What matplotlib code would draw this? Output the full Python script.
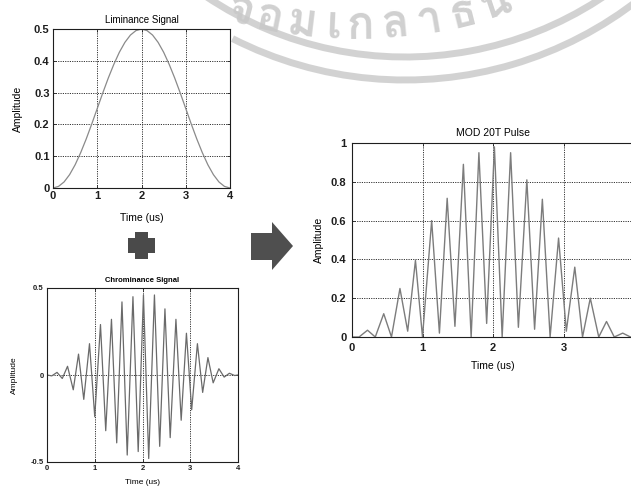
import numpy as np
import matplotlib
matplotlib.use('Agg')
import matplotlib.pyplot as plt
from matplotlib.patches import Arc, Polygon
from matplotlib import font_manager as fm
from matplotlib.ft2font import FT2Font

# ---------------- data ----------------
lum_t = [0, 0.125, 0.25, 0.375, 0.5, 0.625, 0.75, 0.875, 1.0, 1.125, 1.25, 1.375, 1.5,
         1.625, 1.75, 1.875, 2.0, 2.125, 2.25, 2.375, 2.5, 2.625, 2.75, 2.875, 3.0,
         3.125, 3.25, 3.375, 3.5, 3.625, 3.75, 3.875, 4.0]
lum_v = [0, 0.005, 0.019, 0.042, 0.073, 0.111, 0.154, 0.201, 0.25, 0.299, 0.346, 0.389, 0.427,
         0.458, 0.481, 0.495, 0.5, 0.495, 0.481, 0.458, 0.427, 0.389, 0.346, 0.299, 0.25,
         0.201, 0.154, 0.111, 0.073, 0.042, 0.019, 0.005, 0]

chroma_t = [0, 0.10, 0.21, 0.32, 0.43, 0.55, 0.66, 0.77, 0.89, 1.00, 1.12, 1.23, 1.35, 1.46,
            1.57, 1.68, 1.80, 1.91, 2.02, 2.13, 2.25, 2.36, 2.47, 2.58, 2.70, 2.81, 2.92,
            3.03, 3.15, 3.26, 3.37, 3.48, 3.60, 3.71, 3.82, 3.93, 4.0]
chroma_v = [0, -0.005, 0.015, -0.02, 0.05, -0.085, 0.12, -0.14, 0.18, -0.24, 0.29, -0.32,
            0.32, -0.39, 0.42, -0.46, 0.45, -0.44, 0.46, -0.48, 0.46, -0.41, 0.38, -0.36,
            0.32, -0.26, 0.24, -0.20, 0.18, -0.10, 0.10, -0.045, 0.036, -0.012, 0.01,
            -0.003, 0]

mod_t = [0, 0.10, 0.22, 0.33, 0.45, 0.56, 0.68, 0.79, 0.90, 1.00, 1.13, 1.24, 1.35, 1.46,
         1.58, 1.69, 1.80, 1.91, 2.02, 2.13, 2.25, 2.36, 2.48, 2.59, 2.70, 2.81, 2.93, 3.04,
         3.16, 3.27, 3.38, 3.50, 3.61, 3.72, 3.84, 3.95, 4.0]
mod_v = [0, 0.0, 0.035, 0.0, 0.12, 0.0, 0.25, 0.03, 0.395, 0.0, 0.60, 0.02, 0.715, 0.055,
         0.89, 0.0, 0.95, 0.07, 0.98, 0.0, 0.95, 0.05, 0.81, 0.04, 0.71, 0.0, 0.51, 0.03,
         0.36, 0.0, 0.20, 0.0, 0.08, 0.0, 0.02, 0.0, 0.0]

lum_xticks = [0, 1, 2, 3, 4]
lum_yticks = [0, 0.1, 0.2, 0.3, 0.4, 0.5]
lum_ylabels = ['0', '0.1', '0.2', '0.3', '0.4', '0.5']
chroma_yticks = [-0.5, 0, 0.5]
chroma_ylabels = ['-0.5', '0', '0.5']
mod_xticks = [0, 1, 2, 3]
mod_yticks = [0, 0.2, 0.4, 0.6, 0.8, 1.0]
mod_ylabels = ['0', '0.2', '0.4', '0.6', '0.8', '1']

titles = ['Liminance Signal', 'Chrominance Signal', 'MOD 20T Pulse']
xlabel = 'Time (us)'
ylabel = 'Amplitude'
watermark_chars = ['จ', 'อ', 'ม', 'เ', 'ก', 'ล้', 'า', 'ธ', 'น']

# ---------------- figure ----------------
plt.rcParams['font.family'] = ['Liberation Sans', 'DejaVu Sans']
W, H = 631, 487
fig = plt.figure(figsize=(W / 100, H / 100), dpi=100)


def rect(l, t, r, b):
    return [l / W, 1 - b / H, (r - l) / W, (b - t) / H]


def style(ax, fs, pad=2.5):
    for s in ax.spines.values():
        s.set_linewidth(0.8)
        s.set_color('#1e1e1e')
    ax.tick_params(direction='in', length=2.5, width=0.6, labelsize=fs, pad=pad,
                   colors='#1e1e1e', top=True, right=True)
    for lab in ax.get_xticklabels() + ax.get_yticklabels():
        lab.set_fontweight('bold')
    ax.grid(True, linestyle=(0, (1.2, 1.2)), color='#333333', linewidth=0.7)
    ax.set_axisbelow(True)


# Luminance
ax1 = fig.add_axes(rect(53, 29, 230, 188))
ax1.plot(lum_t, lum_v, color='#8a8a8a', lw=0.9)
ax1.set_xlim(0, 4)
ax1.set_ylim(0, 0.5)
ax1.set_xticks(lum_xticks)
ax1.set_yticks(lum_yticks)
ax1.set_yticklabels(lum_ylabels)
style(ax1, 8)
ax1.set_title(titles[0], fontsize=7, pad=4)
ax1.set_xlabel(xlabel, fontsize=7.5, labelpad=8)
ax1.set_ylabel(ylabel, fontsize=7.5, labelpad=8)

# Chrominance
ax2 = fig.add_axes(rect(47, 288, 238, 462))
ax2.plot(chroma_t, chroma_v, color='#6a6a6a', lw=0.9)
ax2.set_xlim(0, 4)
ax2.set_ylim(-0.5, 0.5)
ax2.set_xticks(lum_xticks)
ax2.set_yticks(chroma_yticks)
ax2.set_yticklabels(chroma_ylabels)
style(ax2, 5.5)
ax2.set_title(titles[1], fontsize=5.5, pad=4, fontweight='bold')
ax2.set_xlabel(xlabel, fontsize=6, labelpad=5)
ax2.set_ylabel(ylabel, fontsize=6, labelpad=9)

# MOD 20T
ax3 = fig.add_axes(rect(352, 143, 634, 337))
ax3.plot(mod_t, mod_v, color='#7c7c7c', lw=1.0)
ax3.set_xlim(0, 4)
ax3.set_ylim(0, 1)
ax3.set_xticks(mod_xticks)
ax3.set_yticks(mod_yticks)
ax3.set_yticklabels(mod_ylabels)
style(ax3, 8, pad=4)
ax3.set_title(titles[2], fontsize=7.5, pad=5)
ax3.set_xlabel(xlabel, fontsize=7.5, labelpad=6)
ax3.set_ylabel(ylabel, fontsize=7.5, labelpad=5)

# ---------------- decorations ----------------
ov = fig.add_axes([0, 0, 1, 1], zorder=10)
ov.set_xlim(0, W)
ov.set_ylim(H, 0)
ov.axis('off')
ov.patch.set_alpha(0)

# plus sign
plus = [(135, 232), (148, 232), (148, 238), (155, 238), (155, 253), (148, 253), (148, 259),
        (135, 259), (135, 253), (128, 253), (128, 238), (135, 238)]
ov.add_patch(Polygon(plus, closed=True, color='#4a4a4a', lw=0))
# arrow
arrow = [(251, 233), (272, 233), (272, 222), (293, 246), (272, 270), (272, 260), (251, 260)]
ov.add_patch(Polygon(arrow, closed=True, color='#4f4f4f', lw=0))

# watermark rings
cx, cy = 405, -300
ov.add_patch(Arc((cx, cy), 2 * 357, 2 * 357, theta1=35, theta2=124, lw=5.0,
                 color='#c4c4c4', alpha=0.75))
ov.add_patch(Arc((cx, cy), 2 * 380, 2 * 380, theta1=30, theta2=117, lw=5.0,
                 color='#c4c4c4', alpha=0.75))

# watermark text (only if a Thai-capable font exists)
thai_font = None
for f in fm.fontManager.ttflist:
    try:
        if 0x0E08 in FT2Font(f.fname).get_charmap():
            thai_font = f.name
            break
    except Exception:
        pass
if thai_font is not None:
    tcx, tcy, rb = 355, -414, 453
    char_x = [238, 267, 301, 334, 360, 396, 431, 466, 499]
    for ch, xx in zip(watermark_chars, char_x):
        pr = np.arcsin((xx - tcx) / rb)
        x = tcx + rb * np.sin(pr)
        y = tcy + rb * np.cos(pr)
        ov.text(x, y, ch, fontsize=33, family=[thai_font], fontweight='bold',
                color='#c8c8c8', alpha=0.85, rotation=np.degrees(pr),
                ha='center', va='baseline', rotation_mode='anchor')

fig.savefig('out.png', dpi=100)
